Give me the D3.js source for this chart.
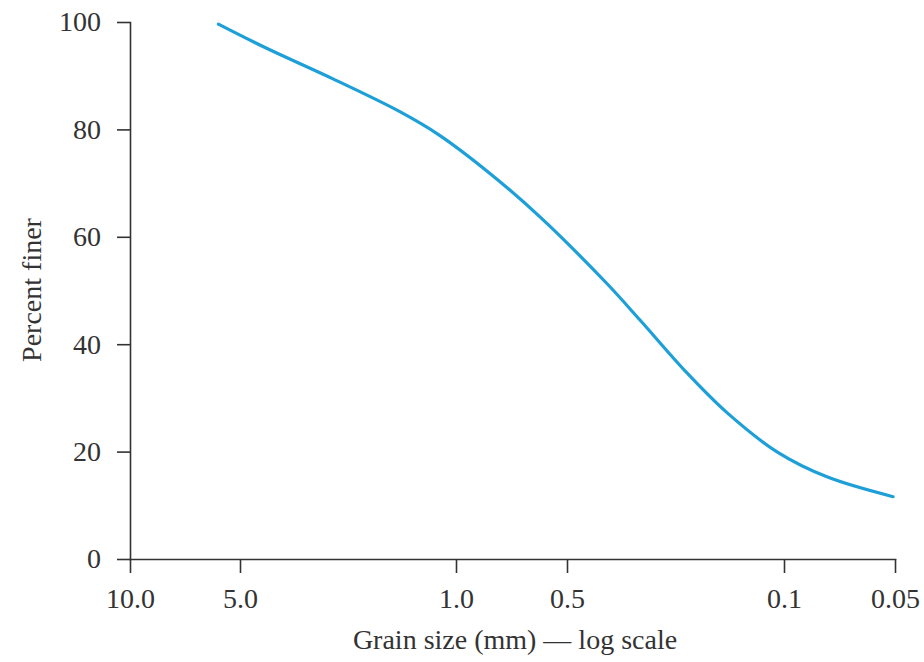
<!DOCTYPE html>
<html>
<head>
<meta charset="utf-8">
<script src="https://cdn.jsdelivr.net/npm/d3@7"></script>
<style>
  body { margin: 0; background: #fff; }
  svg { display: block; }
  .axis path, .axis line { stroke: #333; stroke-width: 1.6; }
  .axis text { font-family: "Liberation Serif", "Times New Roman", serif; font-size: 28px; fill: #333; }
  .title { font-family: "Liberation Serif", "Times New Roman", serif; font-size: 28px; fill: #333; }
</style>
</head>
<body>
<svg id="chart" width="924" height="662"></svg>
<script>
// grain size (mm) and percent finer
var grainSize    = [5.73, 4.10, 2.50, 1.52, 1.13, 0.809, 0.592, 0.372, 0.291, 0.205, 0.153, 0.105, 0.0765, 0.0506];
var percentFiner = [99.6, 95.1, 89.4, 83.3, 78.9, 71.8, 63.7, 51.3, 44.5, 34.6, 27.3, 19.9, 15.3, 11.6];

var xTicks      = [10, 5, 1, 0.5, 0.1, 0.05];
var xTickLabels = ["10.0", "5.0", "1.0", "0.5", "0.1", "0.05"];
var yTicks      = [0, 20, 40, 60, 80, 100];

var svg = d3.select("#chart");

// the printed axis is only roughly logarithmic, so the log scale is pinned at each tick
var x = d3.scaleLog()
    .domain(xTicks)
    .range([130, 240, 456, 567, 784, 895]);

var y = d3.scaleLinear()
    .domain([0, 100])
    .range([559, 22]);

var data = grainSize.map(function(g, i) { return { g: g, p: percentFiner[i] }; });

svg.append("g")
    .attr("class", "axis")
    .attr("transform", "translate(0," + y(0) + ")")
    .call(d3.axisBottom(x)
        .tickValues(xTicks)
        .tickFormat(function(d, i) { return xTickLabels[i]; })
        .tickSize(14)
        .tickSizeOuter(0)
        .tickPadding(8))
    .call(function(g) { g.selectAll("text").attr("dy", "0.95em"); });

svg.append("g")
    .attr("class", "axis")
    .attr("transform", "translate(" + x(10) + ",0)")
    .call(d3.axisLeft(y)
        .tickValues(yTicks)
        .tickSize(13)
        .tickSizeOuter(0)
        .tickPadding(16));

svg.selectAll(".axis .domain").attr("stroke-linecap", "square");

var line = d3.line()
    .x(function(d) { return x(d.g); })
    .y(function(d) { return y(d.p); })
    .curve(d3.curveCatmullRom.alpha(0.5));

svg.append("path")
    .datum(data)
    .attr("fill", "none")
    .attr("stroke", "#1d9fd8")
    .attr("stroke-width", 3.2)
    .attr("stroke-linecap", "round")
    .attr("d", line);

svg.append("text")
    .attr("class", "title")
    .attr("x", 515)
    .attr("y", 649)
    .attr("text-anchor", "middle")
    .text("Grain size (mm) \u2014 log scale");

svg.append("text")
    .attr("class", "title")
    .attr("transform", "translate(41,290) rotate(-90)")
    .attr("text-anchor", "middle")
    .text("Percent finer");
</script>
</body>
</html>
